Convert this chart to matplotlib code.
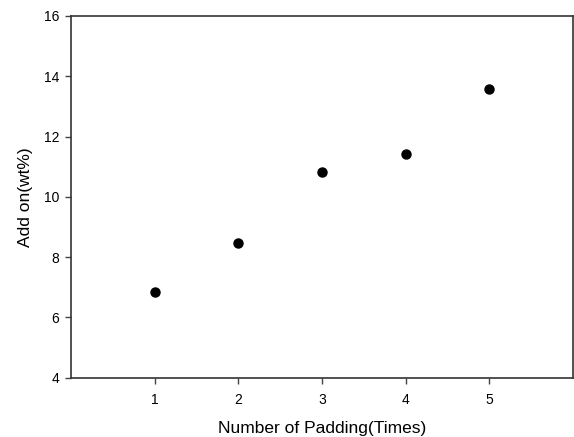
import matplotlib
matplotlib.use('Agg')
import matplotlib.pyplot as plt

plt.rcParams['font.family'] = ['Liberation Sans', 'DejaVu Sans']

padding = [1, 2, 3, 4, 5]
add_on = [6.85, 8.47, 10.82, 11.42, 13.57]

fig = plt.figure(figsize=(5.74, 4.37), dpi=100)
ax = fig.add_axes([0.1241, 0.1357, 0.8739, 0.8277])
ax.plot(padding, add_on, 'o', color='black', markersize=6.5)

ax.set_xlim(0, 6)
ax.set_ylim(4, 16)
ax.set_xticks([1, 2, 3, 4, 5])
ax.set_yticks([4, 6, 8, 10, 12, 14, 16])
ax.tick_params(direction='out', length=4, width=1, labelsize=10, color='#444444')
ax.tick_params(axis='y', pad=4.5)
ax.tick_params(axis='x', pad=7)
for s in ax.spines.values():
    s.set_linewidth(1.2)
    s.set_color('#333333')

ax.set_xlabel('Number of Padding(Times)', fontsize=12.5, labelpad=10)
ax.set_ylabel('Add on(wt%)', fontsize=12.5, labelpad=8)

fig.savefig('out.png', dpi=100)
